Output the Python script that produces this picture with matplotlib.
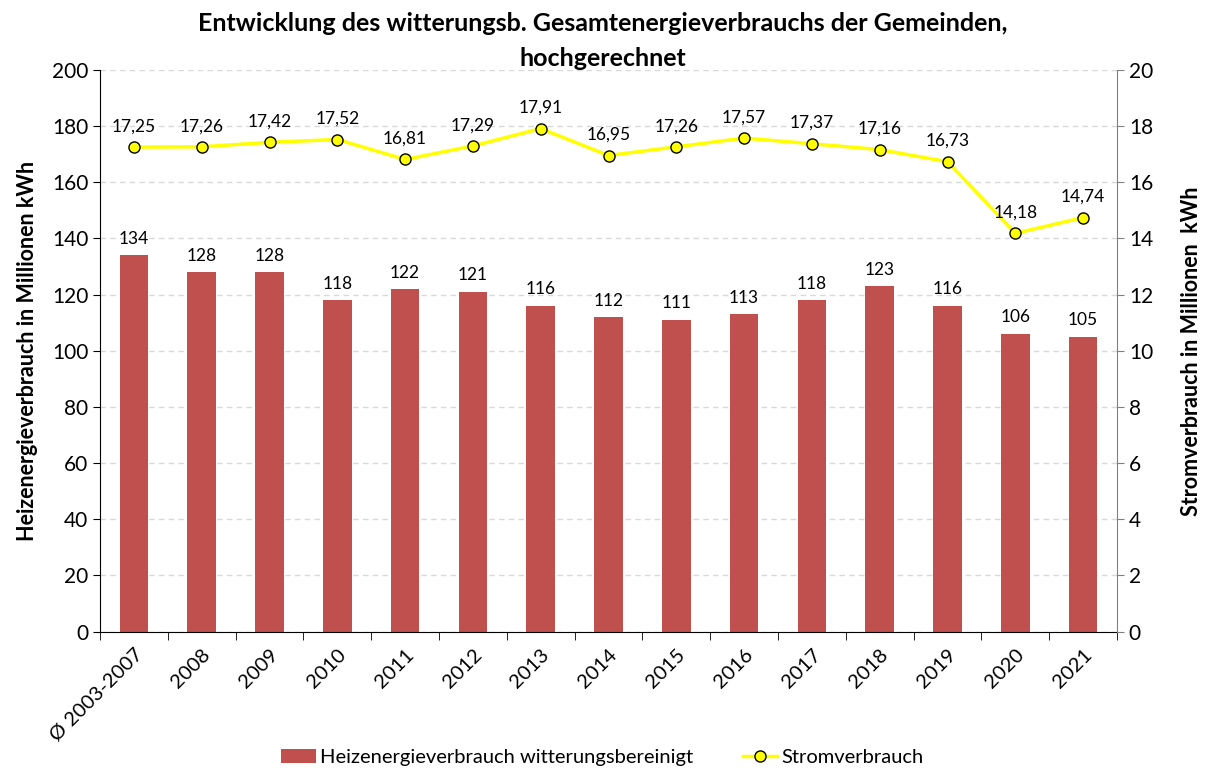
import matplotlib.pyplot as plt
import numpy as np

plt.rcParams['font.family'] = ['Lato', 'DejaVu Sans']

categories = ['\u00d8 2003-2007', '2008', '2009', '2010', '2011', '2012', '2013', '2014',
              '2015', '2016', '2017', '2018', '2019', '2020', '2021']
heizenergie = [134, 128, 128, 118, 122, 121, 116, 112, 111, 113, 118, 123, 116, 106, 105]
strom = [17.25, 17.26, 17.42, 17.52, 16.81, 17.29, 17.91, 16.95, 17.26, 17.57, 17.37,
         17.16, 16.73, 14.18, 14.74]

fig = plt.figure(figsize=(12.05, 7.76), dpi=100)
ax = fig.add_axes([0.083, 0.186, 0.844, 0.724])
ax2 = ax.twinx()

x = np.arange(len(categories))
bars = ax.bar(x, heizenergie, width=0.42, color='#C0504D', zorder=2,
              label='Heizenergieverbrauch witterungsbereinigt')
for xi, v in zip(x, heizenergie):
    ax.text(xi, v + 3, f'{v}', ha='center', va='bottom', fontsize=12.5)

line, = ax2.plot(x, strom, color='#FFFF00', lw=2.5, marker='o', markersize=8,
                 markerfacecolor='#FFFF00', markeredgecolor='black', markeredgewidth=1,
                 zorder=3, label='Stromverbrauch')
for xi, v in zip(x, strom):
    ax2.text(xi, v + 0.45, f'{v:.2f}'.replace('.', ','), ha='center', va='bottom', fontsize=12.5)

ax.set_xlim(-0.5, len(categories) - 0.5)
ax.set_ylim(0, 200)
ax2.set_ylim(0, 20)
ax.set_yticks(np.arange(0, 201, 20))
ax2.set_yticks(np.arange(0, 21, 2))
ax.yaxis.grid(True, linestyle=(0, (4, 3)), color='#D9D9D9', lw=1, zorder=0)
ax.set_axisbelow(True)

ax.set_xticks(x)
ax.set_xticklabels(categories, rotation=45, ha='right', rotation_mode='anchor', fontsize=14.5)
ax.set_xticks(np.arange(-0.5, len(categories), 1), minor=True)
ax.tick_params(axis='x', which='major', length=0, pad=10)
ax.tick_params(axis='x', which='minor', length=6, direction='out')
ax.tick_params(axis='y', labelsize=15, direction='out', length=5)
ax2.tick_params(axis='y', labelsize=15, direction='out', length=5, colors='#808080',
                labelcolor='black')

for s in ['top', 'right']:
    ax.spines[s].set_visible(False)
ax2.spines['top'].set_visible(False)
ax2.spines['left'].set_visible(False)
ax2.spines['bottom'].set_visible(False)
ax2.spines['right'].set_color('#808080')

ax.set_ylabel('Heizenergieverbrauch in Millionen kWh', fontsize=15.5, fontweight='bold', labelpad=10)
ax2.set_ylabel('Stromverbrauch in Millionen  kWh', fontsize=15.5, fontweight='bold', labelpad=20)

fig.suptitle('Entwicklung des witterungsb. Gesamtenergieverbrauchs der Gemeinden,\nhochgerechnet',
             fontsize=18, fontweight='bold', y=0.985, linespacing=1.65)

fig.legend(handles=[bars, line], loc='lower center', bbox_to_anchor=(0.5, -0.01), ncol=2,
           frameon=False, fontsize=14.5, columnspacing=2.5, handlelength=1.7, handletextpad=0.2)

fig.savefig('out.png', dpi=100)
